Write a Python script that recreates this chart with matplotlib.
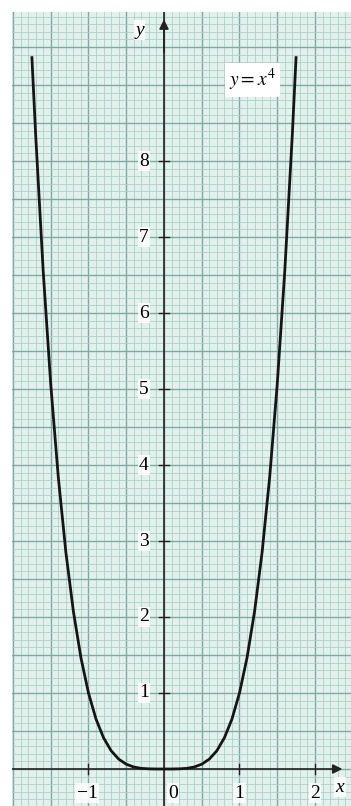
import matplotlib.pyplot as plt
from matplotlib.ticker import MultipleLocator

plt.rcParams["mathtext.fontset"] = "stix"

# points of the curve y = x^4
x_vals = [-1.75, -1.7, -1.6, -1.5, -1.4, -1.3, -1.2, -1.1, -1.0, -0.9, -0.8, -0.7,
          -0.6, -0.5, -0.4, -0.3, -0.2, -0.1, 0.0, 0.1, 0.2, 0.3, 0.4, 0.5, 0.6,
          0.7, 0.8, 0.9, 1.0, 1.1, 1.2, 1.3, 1.4, 1.5, 1.6, 1.7, 1.75]
y_vals = [9.379, 8.352, 6.554, 5.063, 3.842, 2.856, 2.074, 1.464, 1.0, 0.656, 0.410, 0.240,
          0.130, 0.063, 0.026, 0.008, 0.002, 0.000, 0.0, 0.000, 0.002, 0.008, 0.026, 0.063, 0.130,
          0.240, 0.410, 0.656, 1.0, 1.464, 2.074, 2.856, 3.842, 5.063, 6.554, 8.352, 9.379]

y_ticks = [1, 2, 3, 4, 5, 6, 7, 8]
x_ticks = [-1, 1, 2]
x_tick_labels = ["\u22121", "1", "2"]

W, H = 351, 806
fig = plt.figure(figsize=(W / 100, H / 100), dpi=100, facecolor="white")
ax = fig.add_axes([12 / W, 0, (W - 12) / W, (H - 12) / H])
ax.set_facecolor("#e3f1ed")
ax.set_xlim(-2.013, 2.477)
ax.set_ylim(-0.487, 9.961)

# graph paper grid
ax.xaxis.set_major_locator(MultipleLocator(0.5))
ax.xaxis.set_minor_locator(MultipleLocator(0.1))
ax.yaxis.set_major_locator(MultipleLocator(0.5))
ax.yaxis.set_minor_locator(MultipleLocator(0.1))
ax.grid(which="minor", color="#add0c8", linewidth=0.6)
ax.grid(which="major", color="#7fa9a1", linewidth=1.0)
ax.tick_params(which="both", length=0, labelbottom=False, labelleft=False)
for s in ax.spines.values():
    s.set_visible(False)

# axes with arrows
ax.axvline(0, color="#222222", linewidth=1.2, zorder=3)
ax.annotate("", xy=(0, 9.9), xytext=(0, 9.4),
            arrowprops=dict(arrowstyle="-|>", color="#222222", lw=1.2,
                            mutation_scale=14), zorder=4)
ax.plot([-2.1, 2.3], [0, 0], color="#222222", linewidth=1.2, zorder=3)
ax.annotate("", xy=(2.40, 0), xytext=(2.2, 0),
            arrowprops=dict(arrowstyle="-|>", color="#222222", lw=1.2,
                            mutation_scale=14), zorder=4)

# curve
ax.plot(x_vals, y_vals, color="#151515", linewidth=2.0, zorder=5,
        solid_capstyle="butt")

serif = "Liberation Serif"
box = dict(facecolor="white", edgecolor="none", alpha=0.85, pad=1.0)

for t in y_ticks:
    ax.plot([-0.07, 0.07], [t, t], color="#222222", linewidth=1.0, zorder=3)
    ax.text(-0.265, t, str(t), fontsize=14, family=serif, ha="center",
            va="center", bbox=box, zorder=6)

for t, lab in zip(x_ticks, x_tick_labels):
    ax.plot([t, t], [-0.07, 0.07], color="#222222", linewidth=1.0, zorder=3)
    ax.text(t - (0.02 if t < 0 else 0), -0.32, lab, fontsize=14, family=serif,
            ha="center", va="center", bbox=box, zorder=6)

ax.text(0.12, -0.32, "0", fontsize=14, family=serif, ha="center", va="center",
        bbox=box, zorder=6)
ax.text(2.33, -0.24, "x", fontsize=14, family=serif, style="italic",
        ha="center", va="center", bbox=box, zorder=6)
ax.text(-0.32, 9.72, "y", fontsize=14, family=serif, style="italic",
        ha="center", va="center", bbox=box, zorder=6)
ax.text(1.17, 9.07, "$y = x^4$", fontsize=14, ha="center",
        va="center", bbox=dict(facecolor="white", edgecolor="none", pad=3.0),
        zorder=6)

fig.savefig("out.png", dpi=100, facecolor="white")
